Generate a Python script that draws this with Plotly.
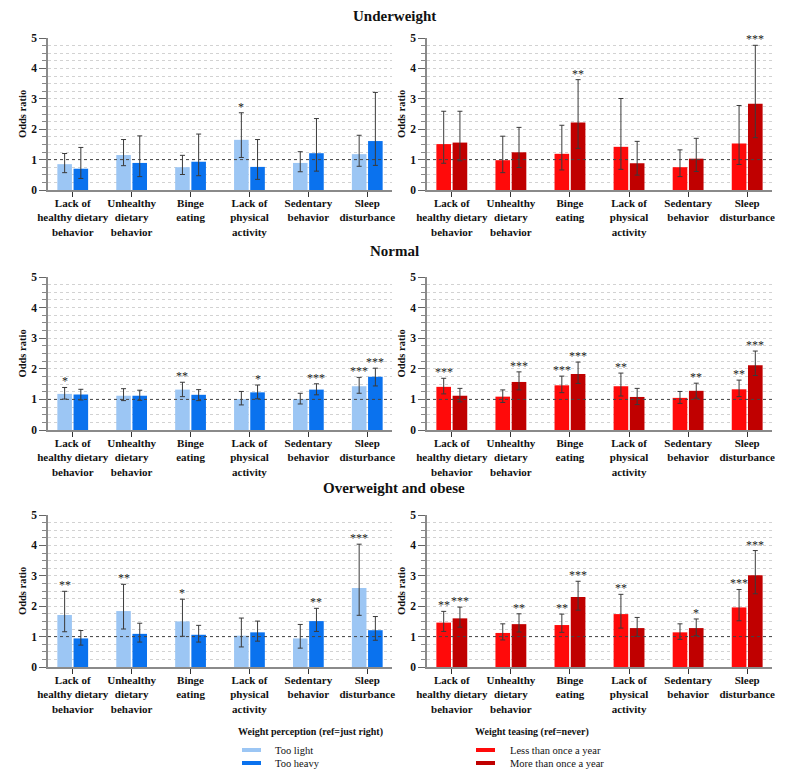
import plotly.graph_objects as go

SERIF = "Liberation Serif"

categories = ["Lack of<br>healthy dietary<br>behavior", "Unhealthy<br>dietary<br>behavior", "Binge<br>eating",
              "Lack of<br>physical<br>activity", "Sedentary<br>behavior", "Sleep<br>disturbance"]
cat_idx = list(range(len(categories)))
y_ticks = [0, 1, 2, 3, 4, 5]

# Underweight - weight perception
uw_light = [0.85, 1.15, 0.75, 1.65, 0.89, 1.18]
uw_light_lo = [0.57, 0.80, 0.51, 1.07, 0.60, 0.78]
uw_light_hi = [1.20, 1.66, 1.14, 2.54, 1.26, 1.80]
uw_light_sig = ["", "", "", "*", "", ""]
uw_heavy = [0.70, 0.89, 0.93, 0.76, 1.21, 1.61]
uw_heavy_lo = [0.38, 0.44, 0.47, 0.35, 0.62, 0.81]
uw_heavy_hi = [1.40, 1.78, 1.84, 1.66, 2.35, 3.21]
uw_heavy_sig = ["", "", "", "", "", ""]
# Underweight - weight teasing
uw_less = [1.51, 0.98, 1.19, 1.42, 0.75, 1.53]
uw_less_lo = [0.88, 0.57, 0.66, 0.68, 0.44, 0.84]
uw_less_hi = [2.59, 1.77, 2.13, 3.01, 1.32, 2.78]
uw_less_sig = ["", "", "", "", "", ""]
uw_more = [1.56, 1.24, 2.22, 0.88, 1.03, 2.84]
uw_more_lo = [0.96, 0.74, 1.37, 0.49, 0.61, 1.72]
uw_more_hi = [2.59, 2.06, 3.63, 1.60, 1.70, 4.76]
uw_more_sig = ["", "", "**", "", "", "***"]

# Normal - weight perception
nw_light = [1.18, 1.12, 1.32, 1.01, 1.01, 1.43]
nw_light_lo = [1.01, 0.96, 1.09, 0.82, 0.85, 1.20]
nw_light_hi = [1.39, 1.35, 1.56, 1.26, 1.20, 1.72]
nw_light_sig = ["*", "", "**", "", "", "***"]
nw_heavy = [1.16, 1.12, 1.15, 1.23, 1.32, 1.74]
nw_heavy_lo = [0.98, 0.97, 0.96, 1.02, 1.15, 1.44]
nw_heavy_hi = [1.33, 1.30, 1.32, 1.47, 1.51, 2.02]
nw_heavy_sig = ["", "", "", "*", "***", "***"]
# Normal - weight teasing
nw_less = [1.41, 1.09, 1.46, 1.43, 1.05, 1.33]
nw_less_lo = [1.18, 0.90, 1.22, 1.11, 0.87, 1.09]
nw_less_hi = [1.69, 1.31, 1.76, 1.86, 1.26, 1.63]
nw_less_sig = ["***", "", "***", "**", "", "**"]
nw_more = [1.12, 1.57, 1.83, 1.08, 1.28, 2.12]
nw_more_lo = [0.92, 1.31, 1.52, 0.83, 1.04, 1.78]
nw_more_hi = [1.36, 1.90, 2.22, 1.36, 1.53, 2.58]
nw_more_sig = ["", "***", "***", "", "**", "***"]

# Overweight and obese - weight perception
ow_light = [1.71, 1.84, 1.50, 1.03, 0.94, 2.60]
ow_light_lo = [1.16, 1.25, 1.01, 0.66, 0.62, 1.70]
ow_light_hi = [2.49, 2.72, 2.23, 1.61, 1.40, 4.04]
ow_light_sig = ["**", "**", "*", "", "", "***"]
ow_heavy = [0.94, 1.09, 1.06, 1.14, 1.51, 1.21]
ow_heavy_lo = [0.72, 0.82, 0.82, 0.85, 1.17, 0.88]
ow_heavy_hi = [1.20, 1.44, 1.37, 1.51, 1.93, 1.66]
ow_heavy_sig = ["", "", "", "", "**", ""]
# Overweight and obese - weight teasing
ow_less = [1.46, 1.12, 1.38, 1.74, 1.14, 1.96]
ow_less_lo = [1.17, 0.89, 1.14, 1.28, 0.91, 1.52]
ow_less_hi = [1.83, 1.42, 1.74, 2.39, 1.42, 2.55]
ow_less_sig = ["**", "", "**", "**", "", "***"]
ow_more = [1.60, 1.41, 2.30, 1.28, 1.28, 3.02]
ow_more_lo = [1.31, 1.15, 1.87, 1.01, 1.03, 2.41]
ow_more_hi = [1.97, 1.75, 2.82, 1.63, 1.58, 3.83]
ow_more_sig = ["***", "**", "***", "", "*", "***"]

legend_titles = ["Weight perception (ref=just right)", "Weight teasing (ref=never)"]
legend_names = [["Too light", "Too heavy"], ["Less than once a year", "More than once a year"]]

C_LIGHT, C_HEAVY = "#9CC6F4", "#0A72EE"
C_LESS, C_MORE = "#FF0A0A", "#C00000"
col_colors = [(C_LIGHT, C_HEAVY), (C_LESS, C_MORE)]

BARGAP, GROUPGAP = 0.45, 0.1
SLOT = (1 - BARGAP) / 2

# page pixels -> paper coords (page body has an 8px margin)
OFF = 8
FW, FH = 788 - 2 * OFF, 778 - 2 * OFF


def px(x):
    return (x - OFF) / FW


def py(y):
    return 1 - (y - OFF) / FH


cols_px = [(48, 392), (427, 772)]
ytitle_px = [22, 401]
rows_px = [(38, 190), (277, 430), (515, 667)]
row_titles = ["Underweight", "Normal", "Overweight and obese"]
title_px = [16, 251, 488]

panels = [
    [((uw_light, uw_light_lo, uw_light_hi, uw_light_sig), (uw_heavy, uw_heavy_lo, uw_heavy_hi, uw_heavy_sig)),
     ((uw_less, uw_less_lo, uw_less_hi, uw_less_sig), (uw_more, uw_more_lo, uw_more_hi, uw_more_sig))],
    [((nw_light, nw_light_lo, nw_light_hi, nw_light_sig), (nw_heavy, nw_heavy_lo, nw_heavy_hi, nw_heavy_sig)),
     ((nw_less, nw_less_lo, nw_less_hi, nw_less_sig), (nw_more, nw_more_lo, nw_more_hi, nw_more_sig))],
    [((ow_light, ow_light_lo, ow_light_hi, ow_light_sig), (ow_heavy, ow_heavy_lo, ow_heavy_hi, ow_heavy_sig)),
     ((ow_less, ow_less_lo, ow_less_hi, ow_less_sig), (ow_more, ow_more_lo, ow_more_hi, ow_more_sig))],
]

fig = go.Figure()
annotations = []
shapes = []
layout = {}
cat_font = dict(family=SERIF, size=11, color="#111", weight="bold")
tick_font = dict(family=SERIF, size=11.5, color="#111", weight="bold")
ytitle_font = dict(family=SERIF, size=10.5, color="#111", weight="bold")

n = 0
for r, row in enumerate(panels):
    for c, pair in enumerate(row):
        n += 1
        sx = "" if n == 1 else str(n)
        xa, ya = "x" + sx, "y" + sx
        for k, (vals, lo, hi, sig) in enumerate(pair):
            fig.add_trace(go.Bar(
                x=cat_idx, y=vals, xaxis=xa, yaxis=ya, offsetgroup=str(k),
                marker=dict(color=col_colors[c][k], line=dict(width=0)), showlegend=False,
                name=legend_names[c][k],
                error_y=dict(type="data", symmetric=False,
                             array=[h - v for h, v in zip(hi, vals)],
                             arrayminus=[v - l for v, l in zip(vals, lo)],
                             color="#3a3a3a", thickness=1, width=2.5),
            ))
            off = (k - 0.5) * SLOT
            for i, s in enumerate(sig):
                if s:
                    annotations.append(dict(x=i + off, y=hi[i], xref=xa, yref=ya, text=s, showarrow=False,
                                            xanchor="center", yanchor="bottom", yshift=-3,
                                            font=dict(family=SERIF, size=12, color="#222")))
        x0, x1 = cols_px[c]
        yt, yb = rows_px[r]
        layout["xaxis" + sx] = dict(
            domain=[px(x0), px(x1)], anchor=ya, range=[-0.42, 5.42], tickmode="array",
            tickvals=cat_idx, ticktext=categories, tickangle=0, ticks="outside", ticklen=5, tickcolor="#333",
            showline=True, linecolor="#8a8a8a", linewidth=1.5, showgrid=False, zeroline=False,
            ticklabelstandoff=-3, tickfont=cat_font, automargin=False, fixedrange=True)
        layout["yaxis" + sx] = dict(
            domain=[py(yb), py(yt)], anchor=xa, range=[0, 5], tickvals=y_ticks,
            ticks="outside", ticklen=7, tickcolor="#666", showline=True, linecolor="#8a8a8a", linewidth=1.5,
            showgrid=True, gridcolor="#d2d2d2", griddash="dot", gridwidth=1, zeroline=False,
            minor=dict(dtick=0.25, showgrid=True, gridcolor="#d2d2d2", griddash="dot", ticks="outside",
                       ticklen=4, tickcolor="#888"),
            tickfont=tick_font, automargin=False, fixedrange=True)
        # y axis title
        annotations.append(dict(x=px(ytitle_px[c]), y=py((yt + yb) / 2), xref="paper", yref="paper",
                                text="Odds ratio", textangle=-90, showarrow=False,
                                xanchor="center", yanchor="middle", font=ytitle_font))
        shapes.append(dict(type="line", xref=xa + " domain", yref=ya, x0=0, x1=1, y0=1, y1=1,
                           line=dict(color="#444", width=1, dash="dot")))

for t, ypx in zip(row_titles, title_px):
    annotations.append(dict(x=px(394), y=py(ypx), xref="paper", yref="paper", text=t,
                            xanchor="center", yanchor="middle", showarrow=False,
                            font=dict(family=SERIF, size=15, color="#111", weight="bold")))

# legends drawn as keys below the panels
legend_x = [(236, 242, 273), (473, 476, 508)]  # title x, key line x, label x
for c in range(2):
    tx, lx, ax = legend_x[c]
    annotations.append(dict(x=px(tx), y=py(732), xref="paper", yref="paper", xanchor="left", yanchor="middle",
                            text=legend_titles[c], showarrow=False,
                            font=dict(family=SERIF, size=10, color="#111", weight="bold")))
    for k in range(2):
        ypx = 750 + 13 * k
        shapes.append(dict(type="line", xref="paper", yref="paper", x0=px(lx), x1=px(lx + 19),
                           y0=py(ypx), y1=py(ypx), line=dict(color=col_colors[c][k], width=4)))
        annotations.append(dict(x=px(ax), y=py(ypx), xref="paper", yref="paper", xanchor="left",
                                yanchor="middle", text=legend_names[c][k], showarrow=False,
                                font=dict(family=SERIF, size=10.5, color="#111")))

fig.update_layout(
    width=FW, height=FH, margin=dict(l=0, r=0, t=0, b=0), autosize=False, showlegend=False,
    paper_bgcolor="white", plot_bgcolor="white", barmode="group", bargap=BARGAP, bargroupgap=GROUPGAP,
    annotations=annotations, shapes=shapes, **layout)

fig.write_html("out.html")
